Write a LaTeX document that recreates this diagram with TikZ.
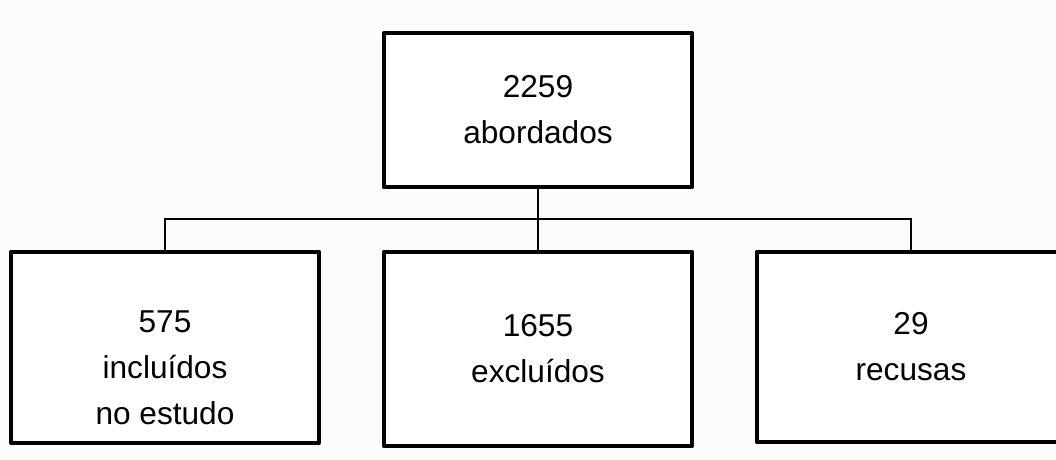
\documentclass[tikz,border=0pt]{standalone}
\usepackage{fontspec}
\setmainfont{Liberation Sans}
\usetikzlibrary{positioning}
\definecolor{paper}{RGB}{252,252,252}

\begin{document}
\begin{tikzpicture}[
    box/.style={draw=black, line width=3pt, line join=round, fill=white,
        minimum width=7.7cm, align=center, inner sep=0pt,
        font=\fontsize{22.5}{32.6}\selectfont},
    conn/.style={draw=black, line width=1.3pt}
]
    \clip (0, 0) rectangle (26.4, 11.475);
    \fill[paper] (0, 0) rectangle (26.4, 11.475);

    % top box and the three outcomes
    \node[box, minimum height=3.85cm] (abord) at (13.45, 8.725) {2259\\abordados};
    \node[box, minimum height=4.775cm] (incl) at (4.125, 2.79) {\rule{0pt}{44pt}575\\incluídos\\no estudo};
    \node[box, minimum height=4.85cm] (excl) at (13.45, 2.75) {1655\\excluídos};
    \node[box, minimum height=4.75cm] (recu) at (22.775, 2.8) {29\\recusas};

    % connectors
    \coordinate (hub) at (13.45, 6.0);
    \draw[conn] (abord.south) -- (hub);
    \draw[conn] (incl.north) |- (hub) -| (recu.north);
    \draw[conn] (hub) -- (excl.north);
\end{tikzpicture}
\end{document}
